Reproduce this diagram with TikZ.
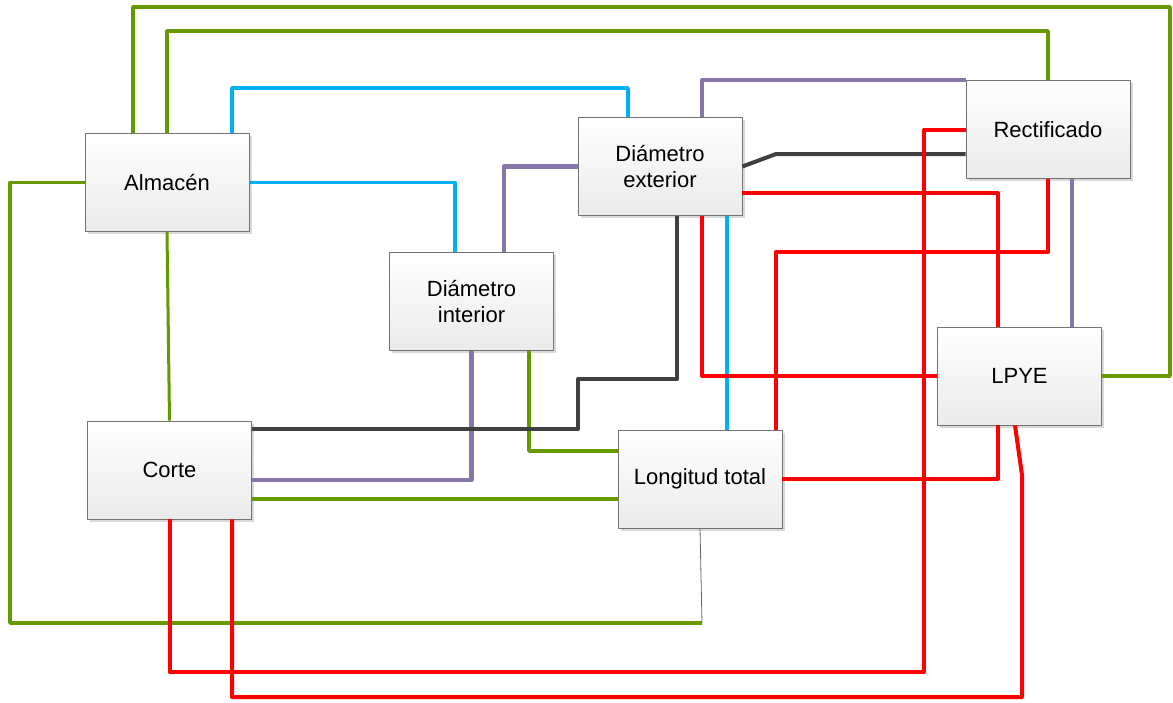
\documentclass[tikz,border=0pt]{standalone}
\usepackage{fontspec}
\setmainfont{Liberation Sans}
\usetikzlibrary{calc}
\usetikzlibrary{shadows}
\definecolor{lgreen}{RGB}{102,153,0}
\definecolor{lblue}{RGB}{0,176,240}
\definecolor{lred}{RGB}{255,0,0}
\definecolor{lpurple}{RGB}{134,118,170}
\definecolor{ldark}{RGB}{64,64,64}

\begin{document}
\begin{tikzpicture}[x=1pt,y=-1pt,line join=round,
    proc/.style={draw=black!55,line width=0.8pt,top color=white,bottom color=black!8,
      minimum width=164pt,minimum height=98pt,inner sep=0pt,align=center,
      font=\fontsize{22}{26.5}\selectfont,
      drop shadow={shadow xshift=2.5pt,shadow yshift=-2.5pt,fill=black!25,opacity=0.6}},
    verde/.style={draw=lgreen,line width=3.6pt},
    azul/.style={draw=lblue,line width=3.6pt},
    rojo/.style={draw=lred,line width=4pt},
    lila/.style={draw=lpurple,line width=4.5pt},
    gris/.style={draw=ldark,line width=4pt}]
    \useasboundingbox (0,0) rectangle (1173,702);
    \node[proc] (alm) at (167,182.5) {Almacén};
    \node[proc] (dext) at (660,166.5) {Diámetro\\exterior};
    \node[proc] (dint) at (471.5,301.5) {Diámetro\\interior};
    \node[proc] (rect) at (1048,129.5) {Rectificado};
    \node[proc] (corte) at (169.5,470) {Corte};
    \node[proc] (ltot) at (700,479) {Longitud total};
    \node[proc] (lpye) at (1019.5,376) {LPYE};
    \coordinate (lbend) at (702,623);
    % verde
    \draw[verde] (133,0 |- alm.north) |- (1170,7) |- (lpye.east);
    \draw[verde] (alm.north) |- (1048,31) -- (rect.north);
    \draw[verde] (alm.west) -| (10,623) -- (lbend);
    \draw[black!60,line width=0.8pt] (lbend) -- (ltot.south);
    \draw[verde,line width=3pt] (alm.south) -- (corte.north);
    \draw[verde] (529,0 |- dint.south) |- (ltot.west |- 0,451);
    \draw[verde] (corte.east |- 0,499) -- (ltot.west |- 0,499);
    % azul
    \draw[azul] (232,0 |- alm.north) |- (628,88) -- (628,0 |- dext.north);
    \draw[azul] (alm.east) -| (455,0 |- dint.north);
    \draw[azul] (727,0 |- dext.south) -- (727,0 |- ltot.north);
    % lila
    \draw[lila] (504,0 |- dint.north) |- (dext.west);
    \draw[lila] (702,0 |- dext.north) |- (rect.north west);
    \draw[lila] (1072,0 |- rect.south) -- (1072,0 |- lpye.north);
    \draw[lila] (dint.south) |- (corte.east |- 0,480);
    % gris
    \draw[gris] (dext.east) -- (776,154) -- (rect.west |- 0,154);
    \draw[gris] (677,0 |- dext.south) |- (578,379) |- (corte.east |- 0,429);
    % rojo
    \draw[rojo] (rect.west) -| (924,672) -| (corte.south);
    \draw[rojo] (dext.east |- 0,193) -| (998,0 |- lpye.north);
    \draw[rojo] (rect.south) |- (776,252) -- (776,0 |- ltot.north);
    \draw[rojo] (702,0 |- dext.south) |- (lpye.west);
    \draw[rojo] (ltot.east) -| (998,0 |- lpye.south);
    \draw[rojo] (1015,0 |- lpye.south) -- (1022,475) |- (232,697) -- (232,0 |- corte.south);
\end{tikzpicture}
\end{document}
